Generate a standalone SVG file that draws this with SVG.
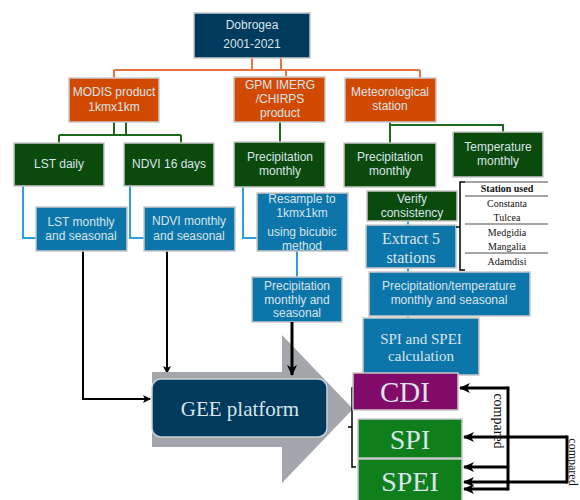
<svg xmlns="http://www.w3.org/2000/svg" width="580" height="500" viewBox="0 0 580 500">
<defs>
<marker id="ah" markerWidth="8" markerHeight="8" refX="7" refY="4" orient="auto" markerUnits="userSpaceOnUse"><path d="M0,0 L8,4 L0,8 L2,4 z" fill="#000"/></marker>
<marker id="ahb" markerWidth="11" markerHeight="10" refX="10" refY="5" orient="auto" markerUnits="userSpaceOnUse"><path d="M0,0 L11,5 L0,10 L3,5 z" fill="#000"/></marker>
<style>
.box{stroke:#c9c9c9;stroke-width:1.5}
.navy{fill:#003a5c}
.org{fill:#d24a02}
.dg{fill:#0a4a0c}
.bl{fill:#0c76ab}
.t{font-family:"Liberation Sans",Arial,sans-serif;font-size:12px;fill:#d9e4ea;text-anchor:middle}
.s{font-family:"Liberation Serif","Times New Roman",serif;fill:#d9e4ea;text-anchor:middle}
.oc{stroke:#ea7440;stroke-width:2;fill:none}
.gc{stroke:#1d6a1d;stroke-width:2;fill:none}
.bc{stroke:#2ba0da;stroke-width:2;fill:none}
.kc{stroke:#000;stroke-width:2;fill:none}
.kt{stroke:#000;stroke-width:3;fill:none}
.tab{font-family:"Liberation Serif","Times New Roman",serif;font-size:10px;fill:#111;text-anchor:middle}
.cmp{font-family:"Liberation Serif","Times New Roman",serif;fill:#111;text-anchor:middle}
</style>
</defs>
<rect width="580" height="500" fill="#fff"/>

<g id="connectors">
<path class="oc" d="M252,58 V70 M281,58 V70 M114,70 H420 M114,70 V78 M286,70 V77 M420,70 V78"/>
<path class="gc" d="M114,122 V135 M126,122 V135 M59,135 H181 M59,135 V143 M181,135 V143 M280,122 V142 M390,122 V125 M390,125 H503 V132 M390,125 V143"/>
<path class="bc" d="M23,186 V238 H36 M130,186 V238 H144 M243,187 V238 H257 M297,251 V277 M408,221 V225 M408,268 V272 M408,316 V318"/>
<path class="kc" d="M83,251 V399 H150" marker-end="url(#ah)"/>
<path class="kc" d="M167,251 V373" marker-end="url(#ah)"/>
<g id="compare">
<path class="kt" d="M508,388 H460" marker-end="url(#ahb)"/>
<path class="kt" d="M508,386.5 V490.5"/>
<path class="kt" d="M508,467 H464" marker-end="url(#ahb)"/>
<path class="kt" d="M508,489 H464" marker-end="url(#ahb)"/>
<path class="kt" d="M567,437 H464" marker-end="url(#ahb)"/>
<path class="kt" d="M567,435.5 V483.5"/>
<path class="kt" d="M567,482 H464" marker-end="url(#ahb)"/>
</g>
</g>

<g id="dobrogea"><rect class="box navy" x="194" y="13" width="116" height="45"/><text class="t" x="252" y="29">Dobrogea</text><text class="t" x="252" y="48">2001-2021</text></g>
<g id="modis"><rect class="box org" x="69" y="78" width="90" height="44"/><text class="t" x="114" y="96">MODIS product</text><text class="t" x="114" y="111">1kmx1km</text></g>
<g id="gpm"><rect class="box org" x="234" y="77" width="91" height="45"/><text class="t" x="280" y="89">GPM IMERG</text><text class="t" x="280" y="103">/CHIRPS</text><text class="t" x="280" y="117">product</text></g>
<g id="meteo"><rect class="box org" x="345" y="78" width="91" height="44"/><text class="t" x="390" y="96">Meteorological</text><text class="t" x="390" y="110">station</text></g>

<g id="lstdaily"><rect class="box dg" x="14" y="143" width="90" height="43"/><text class="t" x="59" y="168">LST daily</text></g>
<g id="ndvi16"><rect class="box dg" x="124" y="143" width="90" height="43"/><text class="t" x="169" y="168">NDVI  16 days</text></g>
<g id="precmonth"><rect class="box dg" x="234" y="142" width="91" height="45"/><text class="t" x="280" y="161">Precipitation</text><text class="t" x="280" y="175">monthly</text></g>
<g id="precstation"><rect class="box dg" x="344" y="143" width="92" height="44"/><text class="t" x="390" y="161">Precipitation</text><text class="t" x="390" y="175">monthly</text></g>
<g id="temp"><rect class="box dg" x="453" y="132" width="90" height="45"/><text class="t" x="498" y="151">Temperature</text><text class="t" x="498" y="165">monthly</text></g>

<g id="lstmonthly"><rect class="box bl" x="36" y="207" width="91" height="44"/><text class="t" x="81" y="226">LST monthly</text><text class="t" x="81" y="240">and seasonal</text></g>
<g id="ndvimonthly"><rect class="box bl" x="144" y="207" width="91" height="44"/><text class="t" x="189" y="225">NDVI monthly</text><text class="t" x="189" y="240">and seasonal</text></g>
<g id="resample"><rect class="box bl" x="257" y="193" width="91" height="58"/><text class="t" x="302" y="203">Resample to</text><text class="t" x="302" y="217">1kmx1km</text><text class="t" x="302" y="236">using bicubic</text><text class="t" x="302" y="250">method</text></g>
<g id="precseasonal"><rect class="box bl" x="252" y="277" width="90" height="45"/><text class="t" x="297" y="290">Precipitation</text><text class="t" x="297" y="304">monthly and</text><text class="t" x="297" y="317">seasonal</text></g>

<g id="verify"><rect class="box dg" x="367" y="191" width="90" height="30"/><text class="t" x="412" y="203">Verify</text><text class="t" x="412" y="217">consistency</text></g>
<g id="extract"><rect class="box bl" x="366" y="225" width="90" height="43"/><text class="s" x="411" y="244" font-size="16">Extract 5</text><text class="s" x="411" y="263" font-size="16">stations</text></g>

<g id="stations">
<path d="M465,182 H460 V270 H465 M460,227 H456" stroke="#000" stroke-width="1.5" fill="none"/>
<path d="M465,182 H548 M465,196 H548 M465,224 H548 M465,253 H548" stroke="#888" stroke-width="1.5" fill="none"/>
<text class="tab" x="507" y="192" font-weight="bold">Station used</text>
<text class="tab" x="507" y="207">Constanta</text>
<text class="tab" x="507" y="221">Tulcea</text>
<text class="tab" x="507" y="236">Medgidia</text>
<text class="tab" x="507" y="250">Mangalia</text>
<text class="tab" x="507" y="265">Adamdisi</text>
</g>

<g id="prectemp"><rect class="box bl" x="369" y="272" width="161" height="44"/><text class="t" x="449" y="290">Precipitation/temperature</text><text class="t" x="449" y="304">monthly and seasonal</text></g>
<g id="spicalc"><rect class="box bl" x="363" y="318" width="116" height="57"/><text class="s" x="421" y="344" font-size="15">SPI and SPEI</text><text class="s" x="421" y="361" font-size="15">calculation</text></g>

<g id="gee">
<path d="M152,372 H282 V335 L353,409 L282,483 V447 H152 Z" fill="#a3a7ab"/>
<rect x="152" y="379" width="175" height="58" rx="9" fill="#003a5c" stroke="#c9d3da" stroke-width="1.5"/>
<text class="s" x="240" y="416" font-size="21">GEE platform</text>
</g>
<path d="M292,322 V375" class="kt" marker-end="url(#ahb)"/>

<g id="results">
<path d="M356,388 H352 V467 H356 M352,427 H348" stroke="#000" stroke-width="1.5" fill="none"/>
</g>
<g id="cdi"><rect x="353" y="373" width="105" height="37" fill="#820a68" stroke="#c9c9c9" stroke-width="1.5"/><text class="s" x="405" y="402" font-size="29">CDI</text></g>
<g id="spi"><rect x="358" y="419" width="104" height="39" fill="#0f7f1c" stroke="#c9c9c9" stroke-width="1.5"/><text class="s" x="410" y="449" font-size="28">SPI</text></g>
<g id="spei"><rect x="358" y="459" width="104" height="45" fill="#0f7f1c" stroke="#c9c9c9" stroke-width="1.5"/><text class="s" x="410" y="491" font-size="28">SPEI</text></g>

<text class="cmp" font-size="14" transform="translate(494,421) rotate(90)">compared</text>
<text class="cmp" font-size="12" transform="translate(569,462) rotate(90)">compared</text>
</svg>
